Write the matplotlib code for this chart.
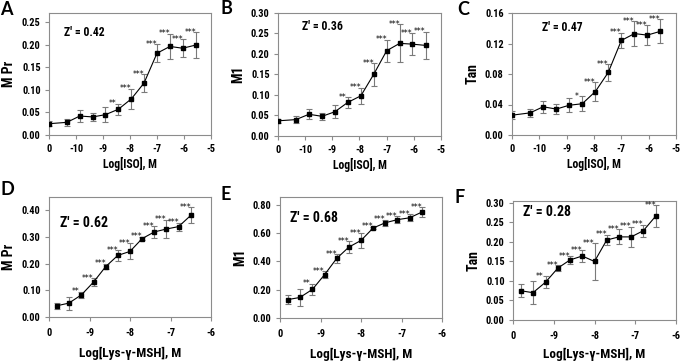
import matplotlib
matplotlib.use("Agg")
import matplotlib.pyplot as plt

NARROW = ['Roboto Condensed', 'Open Sans Condensed', 'DejaVu Sans Condensed',
          'Liberation Sans Narrow', 'Lato', 'DejaVu Sans']
plt.rcParams['font.family'] = NARROW
plt.rcParams['font.weight'] = 'bold'

# ---- data ----
# top row: log[ISO] (M); the zero-dose well is drawn at -11 and labelled "0"
iso_x = [-11.0, -10.34, -9.86, -9.38, -8.91, -8.43, -7.95, -7.48, -7.0, -6.52, -6.05, -5.57]
A_y = [0.025, 0.028, 0.042, 0.040, 0.045, 0.057, 0.080, 0.115, 0.181, 0.196, 0.192, 0.199]
A_e = [0.006, 0.007, 0.013, 0.009, 0.016, 0.012, 0.022, 0.020, 0.020, 0.028, 0.020, 0.028]
A_s = ['', '', '', '', '', '**', '***', '***', '***', '***', '***', '***']
B_y = [0.037, 0.040, 0.053, 0.048, 0.059, 0.082, 0.098, 0.150, 0.208, 0.226, 0.224, 0.221]
B_e = [0.005, 0.008, 0.012, 0.008, 0.016, 0.013, 0.020, 0.027, 0.027, 0.046, 0.027, 0.033]
B_s = ['', '', '', '', '', '**', '***', '***', '***', '***', '***', '***']
C_y = [0.026, 0.029, 0.037, 0.034, 0.039, 0.041, 0.057, 0.082, 0.124, 0.133, 0.131, 0.136]
C_e = [0.005, 0.005, 0.008, 0.007, 0.009, 0.010, 0.012, 0.011, 0.010, 0.016, 0.013, 0.016]
C_s = ['', '', '', '', '', '*', '***', '***', '***', '***', '***', '***']

# bottom row: log[Lys-gamma-MSH] (M)
msh_x = [-9.81, -9.51, -9.20, -8.90, -8.60, -8.30, -8.0, -7.70, -7.40, -7.10, -6.80, -6.50]
D_y = [0.042, 0.052, 0.083, 0.131, 0.189, 0.231, 0.246, 0.294, 0.319, 0.330, 0.339, 0.381]
D_e = [0.012, 0.024, 0.012, 0.015, 0.010, 0.020, 0.030, 0.007, 0.022, 0.035, 0.015, 0.030]
E_y = [0.130, 0.145, 0.202, 0.306, 0.421, 0.501, 0.548, 0.636, 0.673, 0.695, 0.708, 0.748]
E_e = [0.030, 0.060, 0.040, 0.025, 0.030, 0.040, 0.050, 0.010, 0.020, 0.025, 0.025, 0.035]
F_y = [0.075, 0.070, 0.097, 0.133, 0.154, 0.164, 0.150, 0.205, 0.213, 0.213, 0.229, 0.266]
F_e = [0.017, 0.029, 0.015, 0.007, 0.010, 0.015, 0.047, 0.014, 0.019, 0.026, 0.015, 0.028]
DEF_s = ['', '', '**', '***', '***', '***', '***', '***', '***', '***', '***', '***']

top_ticks = [-11, -10, -9, -8, -7, -6, -5]
top_ticklabels = ['0', '-10', '-9', '-8', '-7', '-6', '-5']
bot_ticks = [-10, -9, -8, -7, -6]
bot_ticklabels = ['0', '-9', '-8', '-7', '-6']

W, H = 681, 362
fig = plt.figure(figsize=(W / 100, H / 100), dpi=100)

def ax_at(l, t, r, b):
    return fig.add_axes([l / W, 1 - b / H, (r - l) / W, (b - t) / H])

panels = [
    # letter, box(px), letter pos(px), x, y, err, stars, ylim, yticks, ylabel, z-text, z pos, row
    ('A', (49, 13, 211, 135), (0, 1), iso_x, A_y, A_e, A_s, 0.27, [0, 0.05, 0.10, 0.15, 0.20, 0.25], 'M Pr', "Z' = 0.42", (0.09, 0.84), 'top'),
    ('B', (278, 13, 441, 136), (220, 0), iso_x, B_y, B_e, B_s, 0.30, [0, 0.05, 0.10, 0.15, 0.20, 0.25, 0.30], 'M1', "Z' = 0.36", (0.15, 0.89), 'top'),
    ('C', (512, 13, 676, 135), (457, 1), iso_x, C_y, C_e, C_s, 0.16, [0, 0.04, 0.08, 0.12, 0.16], 'Tan', "Z' = 0.47", (0.18, 0.885), 'top'),
    ('D', (49, 197, 211, 317), (1, 181), msh_x, D_y, D_e, DEF_s, 0.45, [0, 0.1, 0.2, 0.3, 0.4], 'M Pr', "Z' = 0.62", (0.068, 0.78), 'bot'),
    ('E', (280, 197, 442, 318), (220, 186), msh_x, E_y, E_e, DEF_s, 0.855, [0, 0.2, 0.4, 0.6, 0.8], 'M1', "Z' = 0.68", (0.062, 0.83), 'bot'),
    ('F', (513, 201, 676, 320), (454, 189), msh_x, F_y, F_e, DEF_s, 0.305, [0, 0.05, 0.10, 0.15, 0.20, 0.25, 0.30], 'Tan', "Z' = 0.28", (0.06, 0.91), 'bot'),
]

spine_col = '#8c8c8c'
for (letter, box, lpos, xs, ys, es, ss, ymax, yt, ylab, zp, zpos, row) in panels:
    ax = ax_at(*box)
    ax.errorbar(xs, ys, yerr=es, fmt='none', ecolor='#7a7a7a', elinewidth=0.8,
                capsize=2, capthick=0.8, zorder=2)
    ax.plot(xs, ys, color='black', lw=0.8, marker='s', ms=2.6, zorder=3)
    for xv, yv, ev, s in zip(xs, ys, es, ss):
        if s:
            ax.annotate(s, (xv, yv + ev), xytext=(-4, 0), textcoords='offset points',
                        ha='center', va='center', fontsize=5.5, fontweight='normal',
                        family=['DejaVu Sans'])
    if row == 'top':
        ax.set_xlim(-11, -5)
        ax.set_xticks(top_ticks)
        ax.set_xticklabels(top_ticklabels)
        ax.set_xlabel('Log[ISO], M', fontsize=8.5, fontweight='bold', labelpad=2)
        ax.text(zpos[0], zpos[1], zp, transform=ax.transAxes, fontsize=8.5,
                fontweight='bold', ha='left', va='center')
        xpad = 3.5
    else:
        ax.set_xlim(-10, -6)
        ax.set_xticks(bot_ticks)
        ax.set_xticklabels(bot_ticklabels)
        lp = 4.5 if letter == 'F' else 6
        ax.set_xlabel('Log[Lys-γ-MSH], M', fontsize=9.5, fontweight='bold', labelpad=lp)
        ax.text(zpos[0], zpos[1], zp, transform=ax.transAxes, fontsize=10,
                fontweight='bold', ha='left', va='center')
        xpad = 5
    ax.set_ylim(0, ymax)
    ax.set_yticks(yt)
    ax.set_yticklabels(['{:.2f}'.format(v) for v in yt])
    ax.set_ylabel(ylab, fontsize=10, fontweight='bold', labelpad=4)
    for sp in ax.spines.values():
        sp.set_color(spine_col)
        sp.set_linewidth(0.8)
    ax.tick_params(axis='both', direction='out', length=3, width=0.8, color=spine_col,
                   labelsize=7.5, pad=3)
    ax.tick_params(axis='x', pad=xpad)
    for lab in ax.get_xticklabels() + ax.get_yticklabels():
        lab.set_fontweight('bold')
    fig.text(lpos[0] / W, 1 - lpos[1] / H, letter, fontsize=13, fontweight='bold',
             ha='left', va='top', family=['Lato', 'DejaVu Sans'])

fig.savefig('out.png', dpi=100)
